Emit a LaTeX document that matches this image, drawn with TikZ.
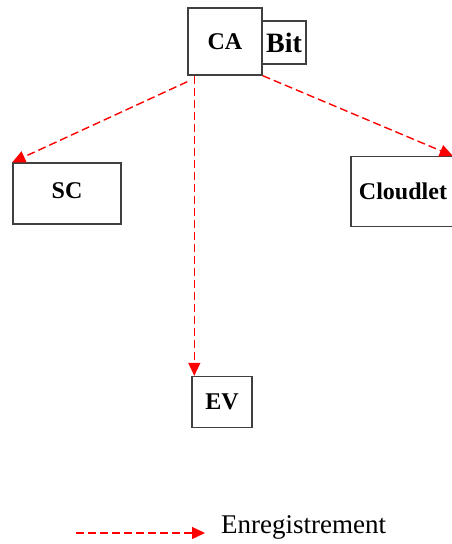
\documentclass[tikz,border=0pt]{standalone}
\usepackage{fontspec}
\setmainfont{Liberation Serif}
\usetikzlibrary{arrows.meta}
\tikzset{
    box/.style={draw=black!75,line width=1.4pt,inner sep=0pt,
        font=\fontsize{24}{28}\selectfont\bfseries},
    reg/.style={red,dashed,dash pattern=on 8pt off 4pt,line width=1.4pt,
        -{Triangle[length=13pt,width=12pt]}}
}
\begin{document}
\begin{tikzpicture}[x=1pt,y=-1pt]
    \useasboundingbox (0,0) rectangle (452,544);
    \node[box,minimum width=74pt,minimum height=67pt] (CA) at (225,41.5) {CA};
    \node[box,minimum width=44pt,minimum height=43pt,font=\fontsize{28}{32}\selectfont\bfseries] (Bit) at (284,42.5) {Bit};
    \node[box,minimum width=108pt,minimum height=61pt] (SC) at (67,193.5) {\raisebox{5pt}{SC}};
    \node[box,minimum width=104pt,minimum height=70pt] (Cloudlet) at (403,191.5) {Cloudlet};
    \node[box,minimum width=60pt,minimum height=51pt] (EV) at (222,402) {EV};
    % liens
    \draw[reg] ([yshift=-6pt]CA.south west) -- (SC.north west);
    \draw[reg] ([xshift=7pt]CA.south west) -- ([xshift=3pt]EV.north west);
    \draw[reg] (CA.south east) -- ([xshift=-3pt]Cloudlet.north east);
    % legende
    \coordinate (l1) at (76,533);
    \coordinate (l2) at (205,533);
    \draw[reg] (l1) -- (l2);
    \node[anchor=west,inner sep=0pt,font=\fontsize{27}{31}\selectfont] (leg) at (221,527) {Enregistrement};
\end{tikzpicture}
\end{document}
